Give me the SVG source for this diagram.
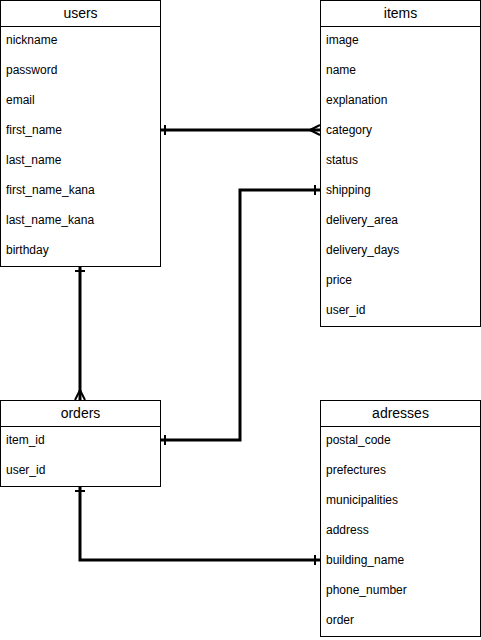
<svg xmlns="http://www.w3.org/2000/svg" width="481" height="640" viewBox="0 0 481 640">
<style>
.box{fill:#fff;stroke:#000;stroke-width:1}
.hd{font-family:"Liberation Sans",Arial,sans-serif;font-size:14px;text-anchor:middle;fill:#000}
.rw{font-family:"Liberation Sans",Arial,sans-serif;font-size:12px;fill:#000}
.edge{fill:none;stroke:#000;stroke-width:3}
.mk{fill:none;stroke:#000;stroke-width:2}
</style>
<defs>
<marker id="one" viewBox="-14 -8 16 16" markerWidth="16" markerHeight="16" refX="0" refY="0" orient="auto-start-reverse" markerUnits="userSpaceOnUse">
<path class="mk" d="M-5,-5 L-5,5" stroke-width="3"/>
</marker>
<marker id="many" viewBox="-14 -8 16 16" markerWidth="16" markerHeight="16" refX="0" refY="0" orient="auto-start-reverse" markerUnits="userSpaceOnUse">
<path class="mk" d="M-10,0 L0,-5 M-10,0 L0,0 M-10,0 L0,5"/>
</marker>
</defs>
<g id="edges">
<path class="edge" d="M160,130 L320,130" marker-start="url(#one)" marker-end="url(#many)"/>
<path class="edge" d="M80,266 L80,400" marker-start="url(#one)" marker-end="url(#many)"/>
<path class="edge" d="M160,440 L240,440 L240,190 L320,190" marker-start="url(#one)" marker-end="url(#one)"/>
<path class="edge" d="M80,486 L80,560 L320,560" marker-start="url(#one)" marker-end="url(#one)"/>
</g>
<g id="users">
<rect class="box" x="0.5" y="0.5" width="160" height="266"/>
<line class="box" x1="0.5" y1="26.5" x2="160.5" y2="26.5"/>
<text class="hd" x="80.5" y="18">users</text>
<text class="rw" x="6" y="44">nickname</text>
<text class="rw" x="6" y="74">password</text>
<text class="rw" x="6" y="104">email</text>
<text class="rw" x="6" y="134">first_name</text>
<text class="rw" x="6" y="164">last_name</text>
<text class="rw" x="6" y="194">first_name_kana</text>
<text class="rw" x="6" y="224">last_name_kana</text>
<text class="rw" x="6" y="254">birthday</text>
</g>
<g id="items">
<rect class="box" x="320.5" y="0.5" width="160" height="326"/>
<line class="box" x1="320.5" y1="26.5" x2="480.5" y2="26.5"/>
<text class="hd" x="400.5" y="18">items</text>
<text class="rw" x="326" y="44">image</text>
<text class="rw" x="326" y="74">name</text>
<text class="rw" x="326" y="104">explanation</text>
<text class="rw" x="326" y="134">category</text>
<text class="rw" x="326" y="164">status</text>
<text class="rw" x="326" y="194">shipping</text>
<text class="rw" x="326" y="224">delivery_area</text>
<text class="rw" x="326" y="254">delivery_days</text>
<text class="rw" x="326" y="284">price</text>
<text class="rw" x="326" y="314">user_id</text>
</g>
<g id="orders">
<rect class="box" x="0.5" y="400.5" width="160" height="86"/>
<line class="box" x1="0.5" y1="426.5" x2="160.5" y2="426.5"/>
<text class="hd" x="80.5" y="418">orders</text>
<text class="rw" x="6" y="444">item_id</text>
<text class="rw" x="6" y="474">user_id</text>
</g>
<g id="adresses">
<rect class="box" x="320.5" y="400.5" width="160" height="236"/>
<line class="box" x1="320.5" y1="426.5" x2="480.5" y2="426.5"/>
<text class="hd" x="400.5" y="418">adresses</text>
<text class="rw" x="326" y="444">postal_code</text>
<text class="rw" x="326" y="474">prefectures</text>
<text class="rw" x="326" y="504">municipalities</text>
<text class="rw" x="326" y="534">address</text>
<text class="rw" x="326" y="564">building_name</text>
<text class="rw" x="326" y="594">phone_number</text>
<text class="rw" x="326" y="624">order</text>
</g>
</svg>
